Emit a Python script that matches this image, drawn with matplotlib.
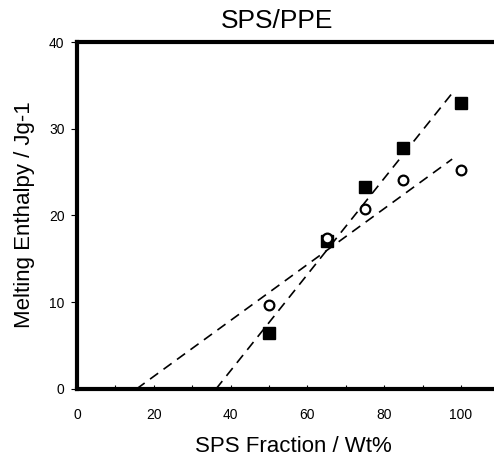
import numpy as np
import matplotlib.pyplot as plt
from matplotlib.ticker import MultipleLocator

# data
sps_frac = [50, 65, 75, 85, 100]
enthalpy_sq = [6.4, 17.0, 23.3, 27.8, 33.0]
enthalpy_circ = [9.7, 17.4, 20.7, 24.1, 25.3]

# dashed fit lines (end points)
fit_sq_x = [36.2, 97.7]
fit_sq_y = [0.0, 34.1]
fit_circ_x = [15.5, 97.7]
fit_circ_y = [0.0, 26.5]

plt.rcParams['font.family'] = ['Liberation Sans', 'DejaVu Sans']

fig = plt.figure(figsize=(4.94, 4.57), dpi=100)
ax = fig.add_axes([0.156, 0.149, 0.844, 0.759])

ax.plot(fit_sq_x, fit_sq_y, color='black', lw=1.2, dashes=(6, 4))
ax.plot(fit_circ_x, fit_circ_y, color='black', lw=1.2, dashes=(6, 4))
ax.plot(sps_frac, enthalpy_sq, 's', color='black', ms=8.5, zorder=3)
ax.plot(sps_frac, enthalpy_circ, 'o', mfc='white', mec='black', mew=1.6, ms=7, zorder=4)

ax.set_xlim(0, 108.6)
ax.set_ylim(0, 40)
ax.xaxis.set_major_locator(MultipleLocator(20))
ax.xaxis.set_minor_locator(MultipleLocator(10))
ax.yaxis.set_major_locator(MultipleLocator(10))

for s in ['left', 'top', 'bottom']:
    ax.spines[s].set_linewidth(3)
ax.spines['right'].set_visible(False)

ax.tick_params(axis='x', which='both', direction='in', length=3, width=0.8, pad=14,
               labelsize=10)
ax.tick_params(axis='y', direction='out', length=4, width=0.8, pad=5, labelsize=10)

fig.text(0.56, 0.954, 'SPS/PPE', ha='center', va='center', fontsize=19)
fig.text(0.05, 0.53, 'Melting Enthalpy / Jg-1', rotation=90, ha='center', va='center',
         fontsize=16)
fig.text(0.593, 0.024, 'SPS Fraction / Wt%', ha='center', va='center', fontsize=16)

fig.savefig('out.png', dpi=100)
